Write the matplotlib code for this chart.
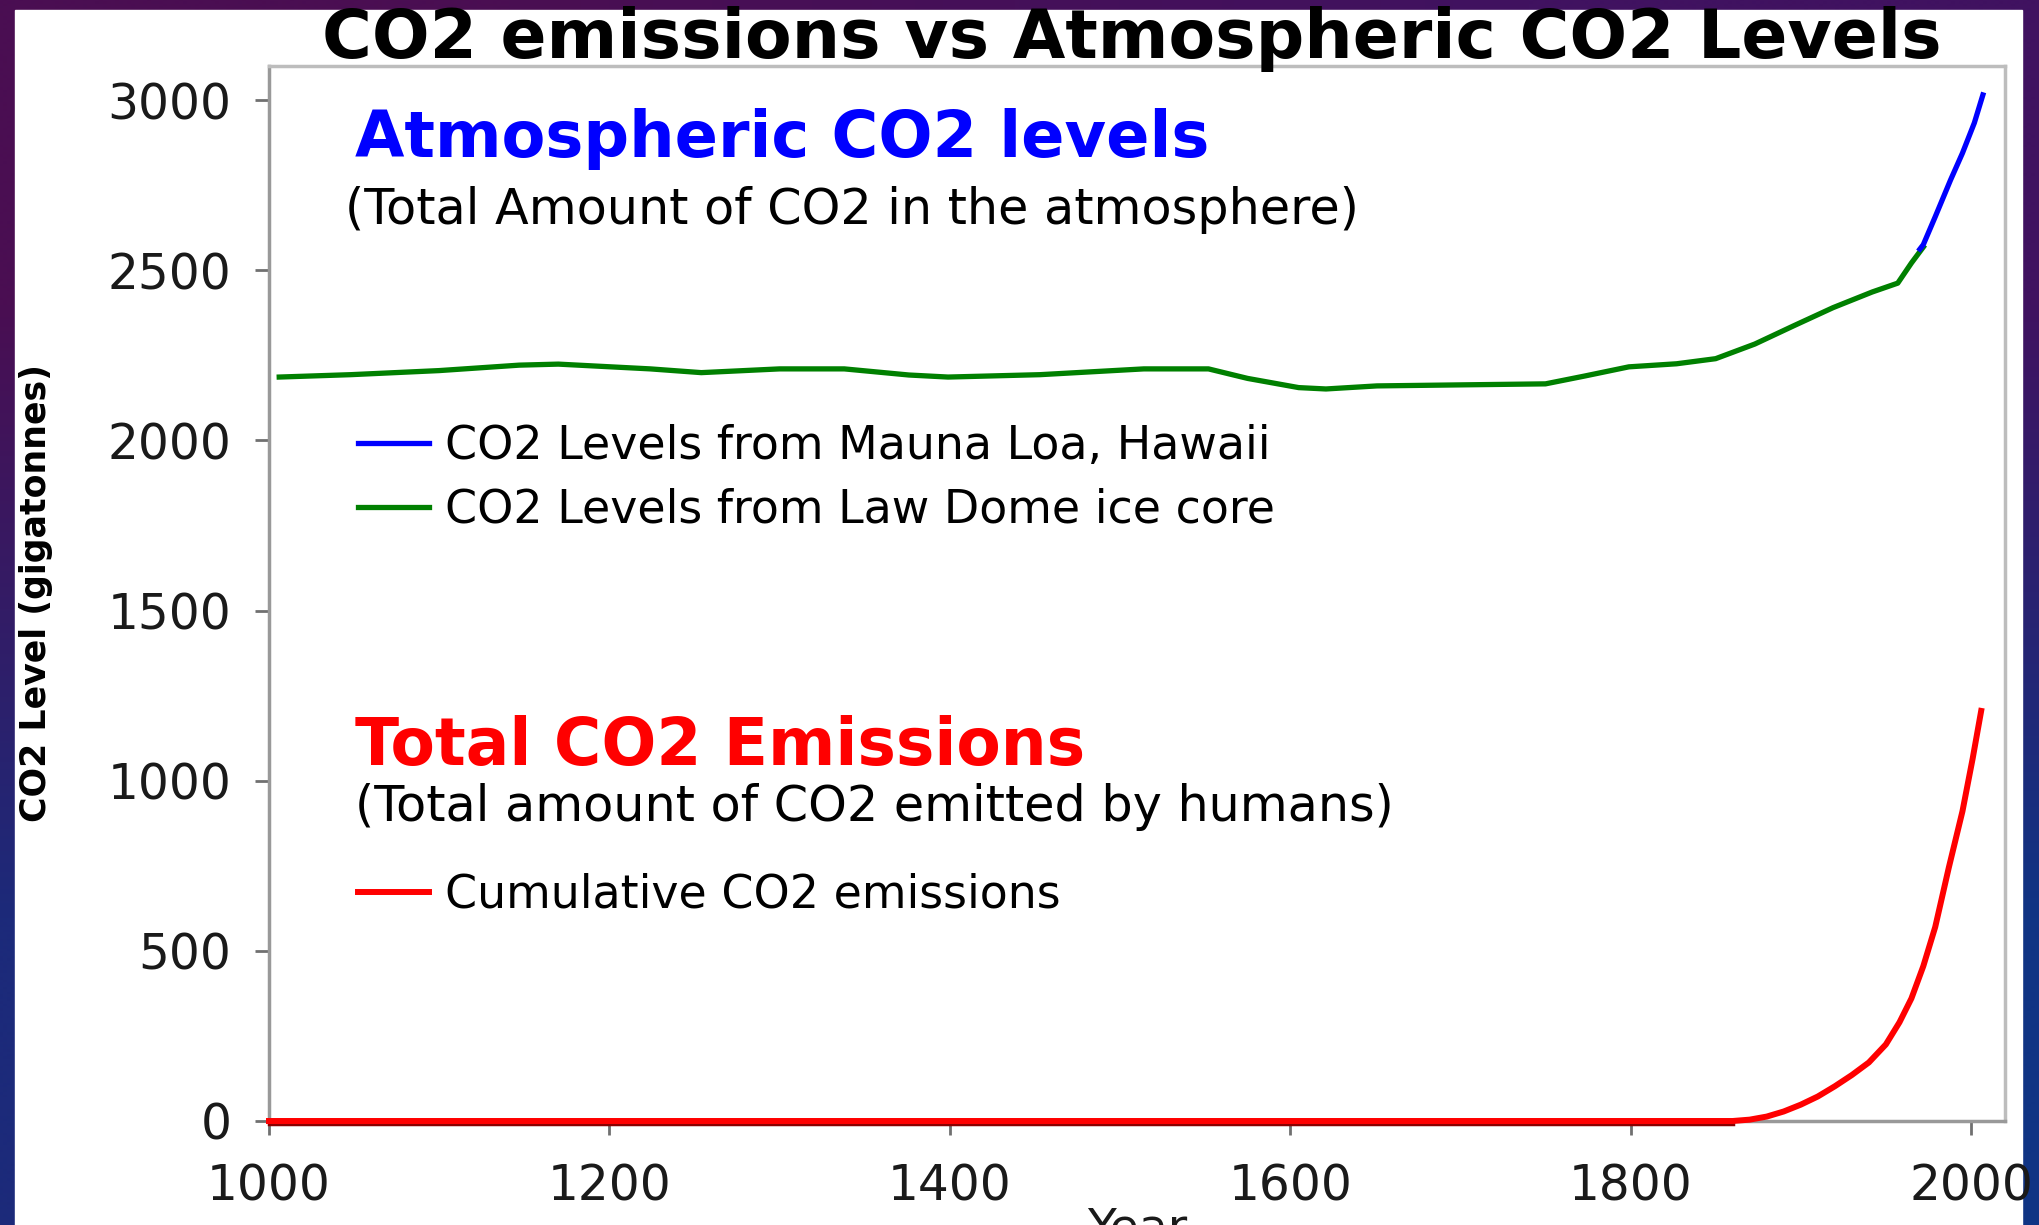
import numpy as np
import matplotlib
matplotlib.use('Agg')
import matplotlib.pyplot as plt
from matplotlib import transforms
from matplotlib.patches import Rectangle

# CO2 levels from Law Dome ice core (gigatonnes)
law_years = [1006, 1048, 1100, 1147, 1170, 1224, 1254, 1300, 1338, 1376, 1399, 1453,
             1514, 1552, 1575, 1605, 1621, 1651, 1700, 1750, 1773, 1799, 1827, 1850,
             1873, 1896, 1919, 1942, 1957, 1965, 1972]
law_vals = [2186, 2193, 2205, 2221, 2224, 2210, 2199, 2210, 2210, 2192, 2186, 2193,
            2210, 2210, 2182, 2155, 2151, 2160, 2163, 2166, 2189, 2216, 2225, 2240,
            2283, 2337, 2390, 2436, 2462, 2521, 2568]

# CO2 levels from Mauna Loa
ml_years = [1970, 1972, 1979, 1988, 1995, 2002, 2007]
ml_vals = [2562, 2575, 2657, 2765, 2844, 2933, 3015]

# cumulative human emissions
emis_years = np.array([1000, 1860, 1870, 1880, 1890, 1900, 1910, 1920, 1930, 1940, 1950,
                       1958, 1965, 1972, 1979, 1987, 1995, 2001, 2006])
emis_vals = np.array([0, 0, 4, 13, 28, 48, 72, 102, 135, 172, 225,
                      290, 360, 455, 570, 745, 910, 1065, 1205])

x_ticks = [1000, 1200, 1400, 1600, 1800, 2000]
y_ticks = [0, 500, 1000, 1500, 2000, 2500, 3000]

title = "CO2 emissions vs Atmospheric CO2 Levels"
atm_head = "Atmospheric CO2 levels"
atm_sub = "(Total Amount of CO2 in the atmosphere)"
emis_head = "Total CO2 Emissions"
emis_sub = "(Total amount of CO2 emitted by humans)"
lbl_ml = "CO2 Levels from Mauna Loa, Hawaii"
lbl_law = "CO2 Levels from Law Dome ice core"
lbl_emis = "Cumulative CO2 emissions"

plt.rcParams['font.family'] = ['DejaVu Sans']

W, H = 2039, 1225
fig = plt.figure(figsize=(W / 100, H / 100), dpi=100)

# slide background (purple -> blue) with white card on top
bg = fig.add_axes([0, 0, 1, 1], zorder=-10)
grad = np.array([[[74, 14, 82], [64, 18, 96]],
                 [[28, 42, 122], [16, 52, 132]]]) / 255
bg.imshow(grad, extent=(0, 1, 0, 1), aspect='auto', interpolation='bilinear')
bg.add_patch(Rectangle((15 / W, 0), (2022 - 15) / W, 1 - 10 / H, color='white'))
bg.set_xlim(0, 1); bg.set_ylim(0, 1)
bg.axis('off')

ax = fig.add_axes([269 / W, (H - 1121) / H, 1736 / W, 1055 / H])
ax.set_xlim(1000, 2020)
ax.set_ylim(0, 3100)

# dark red edge under the flat part of the emissions line
flat = emis_vals == 0
shift = transforms.offset_copy(ax.transData, fig=fig, y=-3, units='dots')
ax.plot(emis_years[flat], emis_vals[flat], color='#8b0000', lw=2.5, transform=shift,
        clip_on=False, zorder=2)
red, = ax.plot(emis_years, emis_vals, color='#ff0000', lw=4.3, label=lbl_emis,
               clip_on=False, zorder=3)
green, = ax.plot(law_years, law_vals, color='#008000', lw=3.8, label=lbl_law, zorder=3)
blue, = ax.plot(ml_years, ml_vals, color='#0000ff', lw=3.8, label=lbl_ml, zorder=4)

ax.set_xticks(x_ticks)
ax.set_yticks(y_ticks)
ax.tick_params(direction='out', length=10, width=2, color='#707070',
               labelsize=35, labelcolor='#1a1a1a')
ax.tick_params(axis='x', pad=20)
ax.tick_params(axis='y', pad=17)

ax.spines['left'].set_color('#999999')
ax.spines['bottom'].set_color('#999999')
ax.spines['top'].set_color('#bdbdbd')
ax.spines['right'].set_color('#bdbdbd')
for s in ax.spines.values():
    s.set_linewidth(2.5)

ax.set_xlabel("Year", fontsize=34, color='#1a1a1a')
ax.xaxis.set_label_coords(0.5, -0.0815)
ax.set_ylabel("CO2 Level (gigatonnes)", fontsize=25, fontweight='bold')
ax.yaxis.label.set_va('center')
ax.yaxis.set_label_coords(-0.134, 0.5)

fig.text(1132 / W, 1 - 58 / H, title, ha='center', va='baseline',
         fontsize=49, fontweight='bold', color='black')

ax.text(0.0495, 0.914, atm_head, transform=ax.transAxes, fontsize=46,
        fontweight='bold', color='#0000ff', va='baseline')
ax.text(0.0438, 0.850, atm_sub, transform=ax.transAxes, fontsize=35.5, va='baseline')
ax.text(0.0495, 0.337, emis_head, transform=ax.transAxes, fontsize=46.5,
        fontweight='bold', color='#ff0000', va='baseline')
ax.text(0.0495, 0.284, emis_sub, transform=ax.transAxes, fontsize=35.5, va='baseline')

leg_kw = dict(frameon=False, fontsize=33, handlelength=1.55, handletextpad=0.35,
              labelspacing=0.4, borderpad=0, borderaxespad=0, loc='center left')
leg1 = ax.legend(handles=[blue, green], bbox_to_anchor=(0.0513, 0.609), **leg_kw)
ax.add_artist(leg1)
ax.legend(handles=[red], bbox_to_anchor=(0.0513, 0.214), **leg_kw)

fig.savefig('out.png', dpi=100)
